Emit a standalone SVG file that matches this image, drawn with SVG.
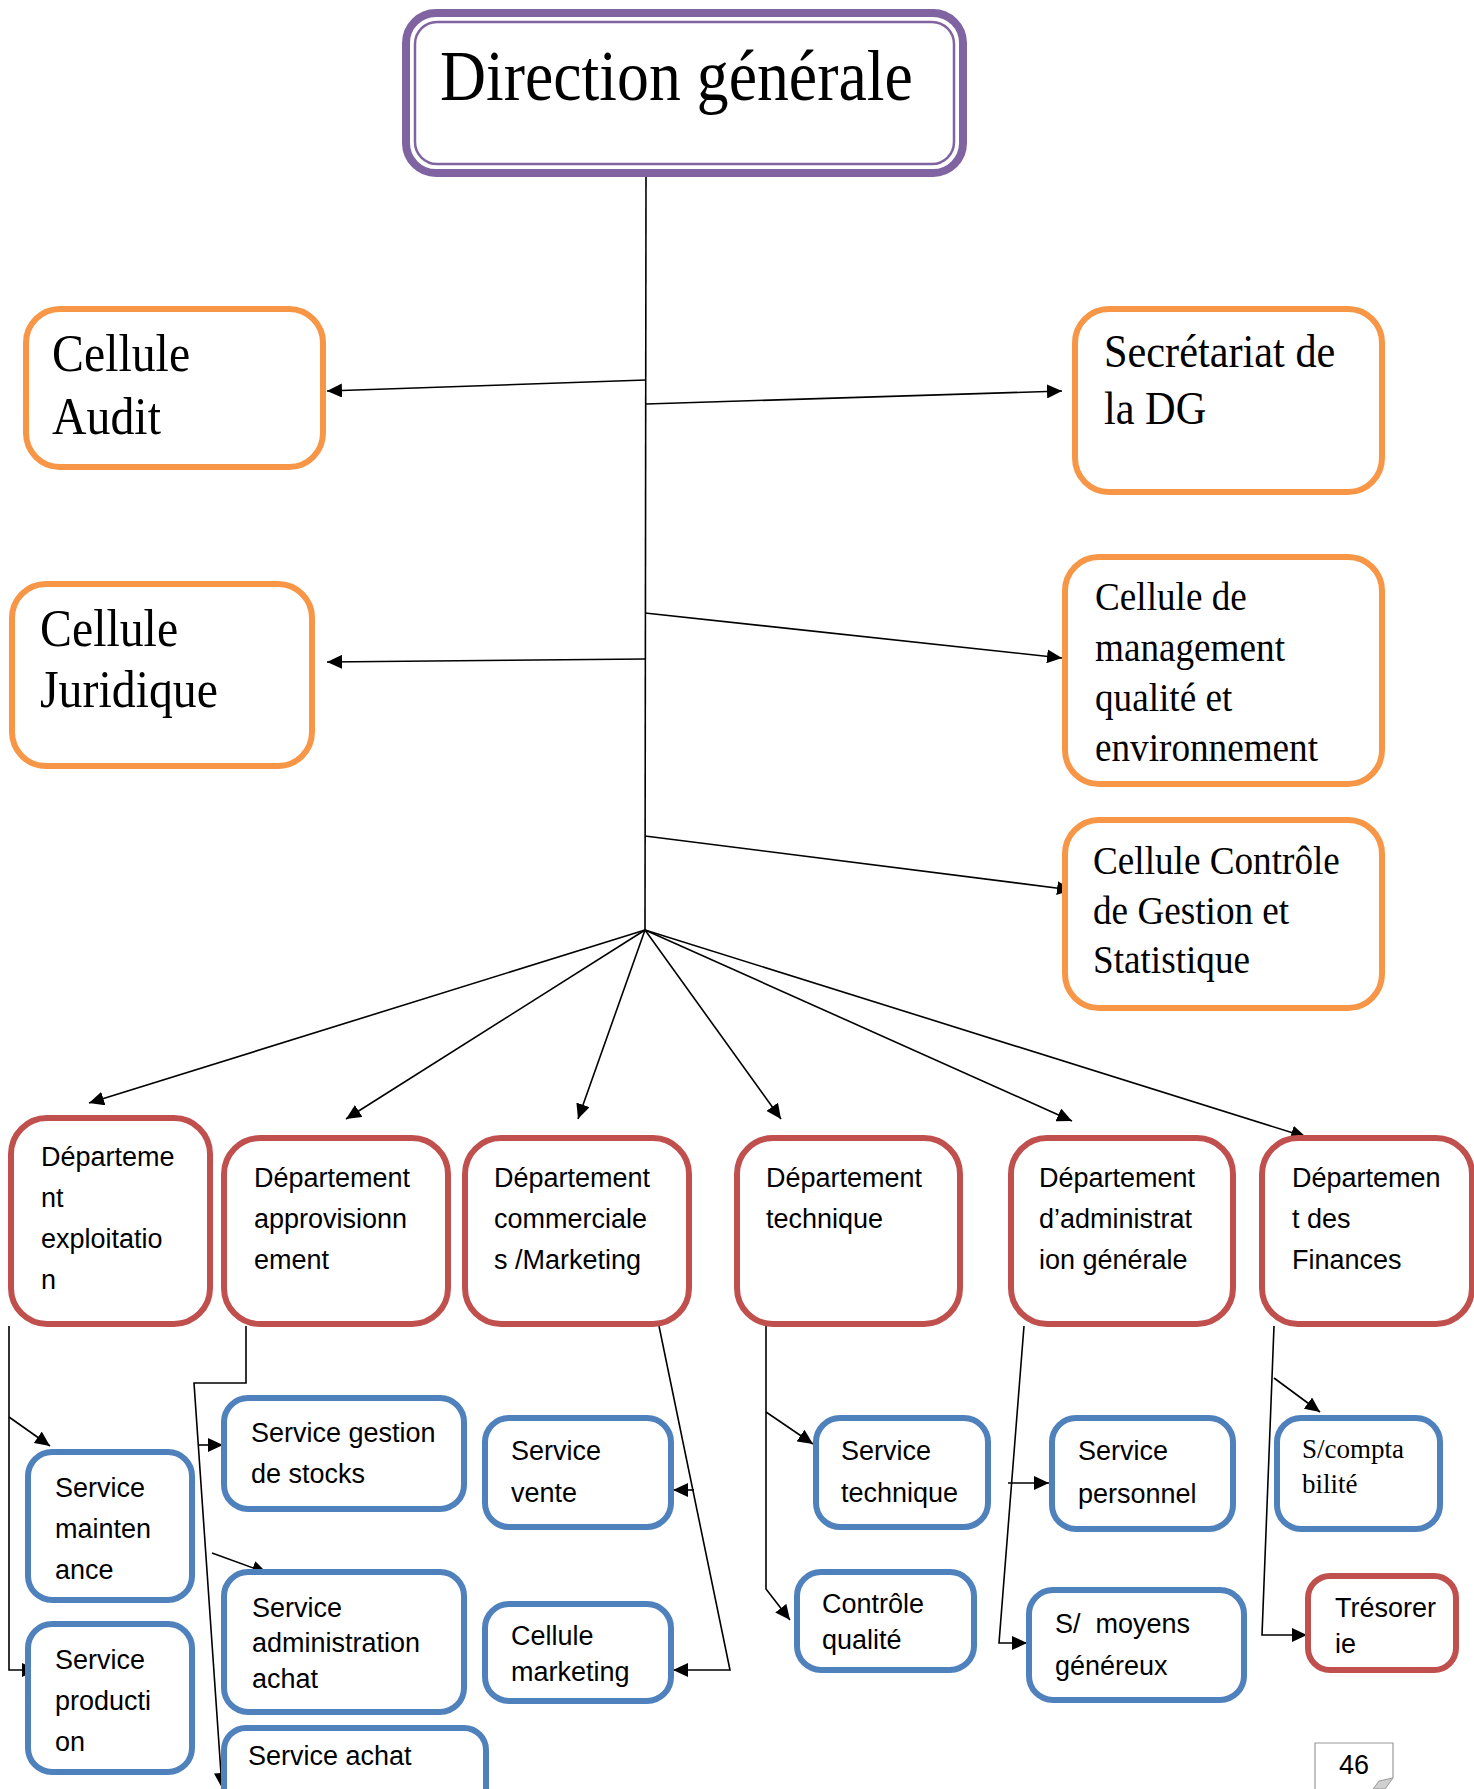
<svg xmlns="http://www.w3.org/2000/svg" width="1474" height="1789" viewBox="0 0 1474 1789">
<defs>
<marker id="ah" markerUnits="userSpaceOnUse" markerWidth="16" markerHeight="14" refX="15" refY="7" orient="auto">
<path d="M0,0 L15,7 L0,14 z" fill="#000"/>
</marker>
<style>
.bg{fill:#fff}
.or{fill:#fff;stroke:#F79646;stroke-width:6}
.rd{fill:#fff;stroke:#C0504D;stroke-width:6}
.bl{fill:#fff;stroke:#4F81BD;stroke-width:6}
.pu{fill:#fff;stroke:#8064A2;stroke-width:8}
.pu2{fill:none;stroke:#8064A2;stroke-width:2.5}
.ser{font-family:"Liberation Serif","Times New Roman",serif;fill:#000}
.sans{font-family:"Liberation Sans",Arial,sans-serif;fill:#000;font-size:27px}
.c{fill:none;stroke:#000;stroke-width:1.6}
.a{fill:none;stroke:#000;stroke-width:1.6;marker-end:url(#ah)}
</style>
</defs>
<rect class="bg" x="0" y="0" width="1474" height="1789"/>

<g id="connectors">
<line class="c" x1="646" y1="177" x2="645" y2="930"/>
<line class="a" x1="646" y1="380" x2="327" y2="391"/>
<line class="a" x1="646" y1="404" x2="1062" y2="391"/>
<line class="a" x1="645" y1="613" x2="1062" y2="658"/>
<line class="a" x1="645" y1="659" x2="327" y2="662"/>
<line class="a" x1="645" y1="836" x2="1072" y2="890"/>
<line class="a" x1="645" y1="930" x2="89" y2="1103"/>
<line class="a" x1="645" y1="930" x2="346" y2="1119"/>
<line class="a" x1="645" y1="930" x2="578" y2="1119"/>
<line class="a" x1="645" y1="930" x2="781" y2="1119"/>
<line class="a" x1="645" y1="930" x2="1072" y2="1121"/>
<line class="a" x1="645" y1="930" x2="1306" y2="1137"/>
<polyline class="a" points="9,1326 9,1670 37,1670"/>
<line class="a" x1="9" y1="1417" x2="50" y2="1446"/>
<polyline class="a" points="246,1326 246,1383 194,1383 222,1788"/>
<line class="a" x1="199" y1="1445" x2="223" y2="1445"/>
<line class="a" x1="212" y1="1553" x2="267" y2="1573"/>
<polyline class="a" points="659,1326 730,1670 673,1670"/>
<line class="a" x1="694" y1="1490" x2="673" y2="1490"/>
<polyline class="a" points="766,1326 766,1589 790,1620"/>
<line class="a" x1="766" y1="1412" x2="813" y2="1444"/>
<polyline class="a" points="1024,1326 999,1643 1027,1643"/>
<line class="a" x1="1008" y1="1483" x2="1049" y2="1483"/>
<polyline class="a" points="1274,1326 1262,1635 1307,1635"/>
<line class="a" x1="1274" y1="1378" x2="1320" y2="1412"/>
</g>

<g id="dg">
<rect class="pu" x="406" y="13" width="557" height="160" rx="30"/>
<rect class="pu2" x="415" y="22" width="539" height="142" rx="22"/>
<text class="ser" font-size="72" transform="translate(440,100) scale(0.886,1)">Direction générale</text>
</g>

<g id="cellule-audit">
<rect class="or" x="26" y="309" width="297" height="158" rx="34"/>
<text class="ser" font-size="52" transform="translate(52,371) scale(0.92,1)"><tspan x="0" y="0">Cellule</tspan><tspan x="0" y="63">Audit</tspan></text>
</g>

<g id="secretariat">
<rect class="or" x="1075" y="309" width="307" height="183" rx="34"/>
<text class="ser" font-size="46" transform="translate(1104,367) scale(0.92,1)"><tspan x="0" y="0">Secrétariat de</tspan><tspan x="0" y="57">la DG</tspan></text>
</g>

<g id="cellule-juridique">
<rect class="or" x="12" y="584" width="300" height="182" rx="34"/>
<text class="ser" font-size="52" transform="translate(40,646) scale(0.92,1)"><tspan x="0" y="0">Cellule</tspan><tspan x="0" y="61">Juridique</tspan></text>
</g>

<g id="cellule-management">
<rect class="or" x="1065" y="557" width="317" height="227" rx="34"/>
<text class="ser" font-size="40" transform="translate(1095,610) scale(0.93,1)"><tspan x="0" y="0">Cellule de</tspan><tspan x="0" y="51">management</tspan><tspan x="0" y="101">qualité et</tspan><tspan x="0" y="151">environnement</tspan></text>
</g>

<g id="cellule-controle">
<rect class="or" x="1065" y="820" width="317" height="188" rx="34"/>
<text class="ser" font-size="40" transform="translate(1093,874) scale(0.93,1)"><tspan x="0" y="0">Cellule Contrôle</tspan><tspan x="0" y="50">de Gestion et</tspan><tspan x="0" y="99">Statistique</tspan></text>
</g>

<g id="dep-exploitation">
<rect class="rd" x="11" y="1118" width="199" height="206" rx="36"/>
<text class="sans"><tspan x="41" y="1166">Départeme</tspan><tspan x="41" y="1207">nt</tspan><tspan x="41" y="1248">exploitatio</tspan><tspan x="41" y="1289">n</tspan></text>
</g>

<g id="dep-approvisionnement">
<rect class="rd" x="224" y="1138" width="224" height="186" rx="36"/>
<text class="sans"><tspan x="254" y="1187">Département</tspan><tspan x="254" y="1228">approvisionn</tspan><tspan x="254" y="1269">ement</tspan></text>
</g>

<g id="dep-commerciale">
<rect class="rd" x="465" y="1138" width="224" height="186" rx="36"/>
<text class="sans"><tspan x="494" y="1187">Département</tspan><tspan x="494" y="1228">commerciale</tspan><tspan x="494" y="1269">s /Marketing</tspan></text>
</g>

<g id="dep-technique">
<rect class="rd" x="737" y="1138" width="223" height="186" rx="36"/>
<text class="sans"><tspan x="766" y="1187">Département</tspan><tspan x="766" y="1228">technique</tspan></text>
</g>

<g id="dep-administration">
<rect class="rd" x="1011" y="1138" width="222" height="186" rx="36"/>
<text class="sans"><tspan x="1039" y="1187">Département</tspan><tspan x="1039" y="1228">d’administrat</tspan><tspan x="1039" y="1269">ion générale</tspan></text>
</g>

<g id="dep-finances">
<rect class="rd" x="1262" y="1138" width="210" height="186" rx="36"/>
<text class="sans"><tspan x="1292" y="1187">Départemen</tspan><tspan x="1292" y="1228">t des</tspan><tspan x="1292" y="1269">Finances</tspan></text>
</g>

<g id="service-maintenance">
<rect class="bl" x="28" y="1452" width="164" height="148" rx="24"/>
<text class="sans" font-size="26"><tspan x="55" y="1497">Service</tspan><tspan x="55" y="1538">mainten</tspan><tspan x="55" y="1579">ance</tspan></text>
</g>

<g id="service-production">
<rect class="bl" x="28" y="1624" width="164" height="148" rx="24"/>
<text class="sans" font-size="26"><tspan x="55" y="1669">Service</tspan><tspan x="55" y="1710">producti</tspan><tspan x="55" y="1751">on</tspan></text>
</g>

<g id="service-gestion-stocks">
<rect class="bl" x="224" y="1398" width="240" height="111" rx="24"/>
<text class="sans" font-size="26"><tspan x="251" y="1442">Service gestion</tspan><tspan x="251" y="1483">de stocks</tspan></text>
</g>

<g id="service-admin-achat">
<rect class="bl" x="224" y="1572" width="240" height="140" rx="24"/>
<text class="sans" font-size="26"><tspan x="252" y="1617">Service</tspan><tspan x="252" y="1652">administration</tspan><tspan x="252" y="1688">achat</tspan></text>
</g>

<g id="service-achat">
<rect class="bl" x="224" y="1728" width="262" height="90" rx="22"/>
<text class="sans" font-size="24" x="248" y="1765">Service achat</text>
</g>

<g id="service-vente">
<rect class="bl" x="485" y="1418" width="186" height="109" rx="24"/>
<text class="sans" font-size="26"><tspan x="511" y="1460">Service</tspan><tspan x="511" y="1502">vente</tspan></text>
</g>

<g id="cellule-marketing">
<rect class="bl" x="485" y="1604" width="186" height="97" rx="24"/>
<text class="sans" font-size="26"><tspan x="511" y="1645">Cellule</tspan><tspan x="511" y="1681">marketing</tspan></text>
</g>

<g id="service-technique">
<rect class="bl" x="816" y="1418" width="172" height="109" rx="24"/>
<text class="sans" font-size="26"><tspan x="841" y="1460">Service</tspan><tspan x="841" y="1502">technique</tspan></text>
</g>

<g id="controle-qualite">
<rect class="bl" x="797" y="1572" width="177" height="98" rx="24"/>
<text class="sans" font-size="26"><tspan x="822" y="1613">Contrôle</tspan><tspan x="822" y="1649">qualité</tspan></text>
</g>

<g id="service-personnel">
<rect class="bl" x="1052" y="1418" width="181" height="111" rx="24"/>
<text class="sans" font-size="26"><tspan x="1078" y="1460">Service</tspan><tspan x="1078" y="1503">personnel</tspan></text>
</g>

<g id="s-moyens-generaux">
<rect class="bl" x="1029" y="1590" width="215" height="110" rx="24"/>
<text class="sans" font-size="26" xml:space="preserve"><tspan x="1055" y="1633">S/  moyens</tspan><tspan x="1055" y="1675">généreux</tspan></text>
</g>

<g id="s-comptabilite">
<rect class="bl" x="1277" y="1418" width="163" height="111" rx="24"/>
<text class="ser" font-size="27"><tspan x="1302" y="1458">S/compta</tspan><tspan x="1302" y="1493">bilité</tspan></text>
</g>

<g id="tresorerie">
<rect class="rd" x="1308" y="1576" width="148" height="94" rx="22" stroke-width="5"/>
<text class="sans" font-size="26"><tspan x="1335" y="1617">Trésorer</tspan><tspan x="1335" y="1653">ie</tspan></text>
</g>

<g id="page-number">
<path d="M1315,1789 L1315,1743 L1393,1743 L1393,1778" fill="#fff" stroke="#999" stroke-width="1.2"/>
<path d="M1373,1789 L1379,1781 L1393,1778 L1385,1789 z" fill="#d0d0d0" stroke="#999" stroke-width="1"/>
<text class="sans" font-size="18" x="1354" y="1774" text-anchor="middle">46</text>
</g>
</svg>
